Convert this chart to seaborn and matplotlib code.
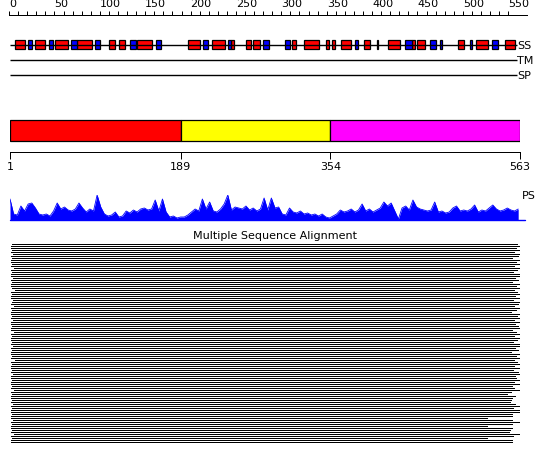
import numpy as np
import seaborn as sns
import matplotlib.pyplot as plt
from matplotlib.patches import Rectangle

# sequence / track extents (residues)
seq_len = 563
track_end = 560

# top ruler
ruler_major = list(range(0, 551, 50))
ruler_minor = list(range(0, 551, 10))

# secondary structure: helices (red) and strands (blue)
helix_start = [6, 29, 51, 75, 110, 121, 141, 197, 224, 245, 261, 269, 312, 325,
               349, 356, 366, 391, 417, 444, 450, 495, 514, 546]
helix_end = [17, 40, 65, 91, 117, 128, 158, 210, 238, 248, 267, 277, 316, 342,
             352, 359, 377, 398, 431, 447, 458, 501, 528, 557]
strand_start = [21, 44, 68, 95, 133, 162, 214, 241, 280, 304, 381, 405, 436,
                464, 475, 508, 532]
strand_end = [25, 48, 75, 100, 140, 167, 219, 245, 286, 309, 384, 407, 444,
              470, 477, 510, 539]
track_names = ["SS", "TM", "SP"]

# domains
domain_bounds = [1, 189, 354, 563]
domain_colors = ["#ff0000", "#ffff00", "#ff00ff"]

# PS profile, one value every 4 residues
ps_pos = np.arange(1, 563, 4)
ps_score = [21, 6, 5, 14, 9, 16, 17, 12, 6, 5,
            6, 4, 9, 17, 11, 13, 10, 9, 11, 17,
            12, 8, 11, 9, 25, 13, 6, 4, 5, 8,
            3, 4, 9, 7, 10, 8, 11, 12, 10, 11,
            20, 9, 21, 8, 3, 4, 2, 3, 3, 5,
            8, 11, 9, 21, 11, 18, 9, 8, 11, 16,
            25, 10, 13, 12, 11, 14, 10, 12, 9, 11,
            22, 10, 22, 12, 13, 6, 5, 12, 8, 7,
            9, 6, 7, 5, 6, 4, 6, 3, 2, 4,
            6, 10, 8, 9, 11, 8, 10, 16, 9, 11,
            8, 10, 12, 18, 14, 17, 9, 1, 12, 14,
            10, 20, 13, 11, 10, 9, 10, 18, 8, 9,
            7, 8, 12, 14, 9, 10, 9, 11, 15, 8,
            10, 9, 12, 15, 11, 9, 10, 12, 10, 9,
            11]

# multiple sequence alignment: aligned span of each hit
msa_starts = [3, 2, 2, 3, 2, 4, 2, 3, 2, 2,
              3, 2, 5, 2, 3, 2, 2, 4, 2, 3,
              2, 2, 3, 6, 2, 3, 2, 2, 4, 3,
              2, 5, 2, 3, 2, 2, 3, 2, 4, 2,
              2, 3, 2, 2, 5, 2, 3, 2, 2, 3,
              2, 4, 2, 3, 2, 2, 3, 2, 6, 2,
              3, 2, 2, 3, 2, 4, 2, 2, 3, 2,
              2, 3, 2, 5, 2, 3, 2, 2, 3, 2,
              4, 2, 3, 2, 2, 3, 2, 2, 4, 2,
              3, 2, 2, 3, 2, 5, 2, 3, 2, 2]
msa_ends = [561, 563, 560, 563, 557, 563, 562, 555, 563, 560,
            563, 558, 563, 561, 556, 563, 563, 559, 562, 555,
            563, 560, 563, 557, 561, 563, 559, 563, 556, 563,
            562, 558, 563, 560, 554, 563, 561, 563, 557, 563,
            559, 562, 563, 555, 560, 563, 558, 563, 561, 556,
            563, 563, 559, 562, 554, 563, 560, 563, 557, 561,
            563, 558, 563, 556, 562, 563, 559, 560, 563, 557,
            563, 555, 557, 563, 554, 550, 559, 555, 554, 553,
            559, 563, 556, 563, 563, 555, 555, 528, 555, 563,
            555, 528, 555, 553, 552, 563, 556, 528, 555, 555]

sns.set_theme(style="white")
plt.rcParams["font.family"] = ["DejaVu Sans"]

W, H = 550, 465
PX = 0.72  # one pixel in points at 100 dpi
fig = plt.figure(figsize=(W / 100, H / 100), dpi=100)


def px_x(r):
    return 10 + (r - 1) * 510 / 562


def add_track(top, height, r_lo=1, r_hi=seq_len):
    left, right = px_x(r_lo), px_x(r_hi)
    ax = fig.add_axes([left / W, 1 - (top + height) / H, (right - left) / W, height / H])
    ax.set_xlim(r_lo, r_hi)
    ax.set_facecolor("none")
    for s in ax.spines.values():
        s.set_visible(False)
    ax.set_yticks([])
    ax.set_xticks([])
    return ax


# ruler
ax_r = add_track(15, 10, 0, 571)
ax_r.spines["top"].set_visible(True)
ax_r.spines["top"].set_linewidth(PX)
ax_r.spines["top"].set_color("black")
ax_r.xaxis.tick_top()
ax_r.set_xticks(ruler_major)
ax_r.set_xticks(ruler_minor, minor=True)
ax_r.tick_params(which="both", direction="out", length=3, width=PX, pad=1,
                 labelsize=8, colors="black", top=True, bottom=False)
for lab in ax_r.get_xticklabels():
    lab.set_ha("left")

# SS / TM / SP tracks
ax_s = add_track(35, 50)
ax_s.set_ylim(85, 35)
rows_y = [45, 60, 75]
ax_s.hlines(rows_y, 1, track_end, color="black", lw=1.0)
for s, e in zip(helix_start, helix_end):
    ax_s.add_patch(Rectangle((s, 40.5), e - s, 9, fc="#ff0000", ec="black", lw=0.9))
for s, e in zip(strand_start, strand_end):
    ax_s.add_patch(Rectangle((s, 40.5), e - s, 9, fc="#0000ff", ec="black", lw=0.9))
for name, y in zip(track_names, rows_y):
    ax_s.text(track_end, y + 1, name, ha="left", va="center", fontsize=8, color="black")

# domains
ax_d = add_track(118, 34)
ax_d.set_ylim(152, 118)
for b0, b1, c in zip(domain_bounds[:-1], domain_bounds[1:], domain_colors):
    ax_d.add_patch(Rectangle((b0, 120), b1 - b0, 21, fc=c, ec="black", lw=0.9))
ax_d.spines["bottom"].set_visible(True)
ax_d.spines["bottom"].set_linewidth(PX)
ax_d.spines["bottom"].set_color("black")
ax_d.set_xticks(domain_bounds)
ax_d.tick_params(axis="x", direction="out", length=5, width=PX, pad=2,
                 labelsize=8, colors="black", bottom=True)

# PS profile
ax_p = add_track(195, 25)
ax_p.set_ylim(0, 25)
sns.lineplot(x=ps_pos, y=ps_score, ax=ax_p, color="#0000ff", lw=0.6)
ax_p.fill_between(ps_pos, 0, ps_score, color="#0000ff", lw=0)
ax_p.plot([1, 569], [0, 0], color="#0000ff", lw=1.0, clip_on=False)
ax_p.text(565, 24, "PS", ha="left", va="center", fontsize=8, color="black")
ax_p.set_xlabel("")
ax_p.set_ylabel("")

# multiple sequence alignment, one 1-px bar every 2 px
n = len(msa_starts)
ax_m = add_track(244, 200)
ax_m.set_ylim(n - 0.25, -0.25)
ax_m.barh(np.arange(n), np.array(msa_ends) - np.array(msa_starts), left=msa_starts,
          height=0.5, color="black", lw=0, antialiased=False)
fig.text(275 / W, 1 - 236 / H, "Multiple Sequence Alignment", ha="center", va="center",
         fontsize=8, color="black")

fig.savefig("out.png", dpi=100, facecolor="white")
